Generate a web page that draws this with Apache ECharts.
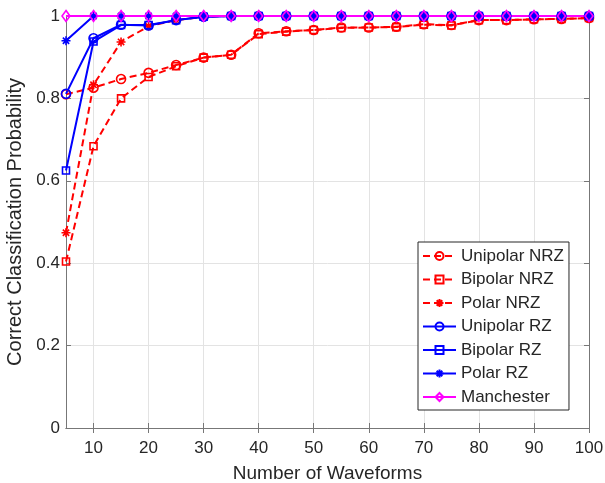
<!DOCTYPE html>
<html>
<head>
<meta charset="utf-8">
<script src="https://cdn.jsdelivr.net/npm/echarts@6/dist/echarts.min.js"></script>
<style>
  html, body { margin: 0; padding: 0; background: #fff; }
  #chart { width: 605px; height: 483px; }
</style>
</head>
<body>
<div id="chart"></div>
<script>
// number of waveforms
var waveforms = [5, 10, 15, 20, 25, 30, 35, 40, 45, 50, 55, 60, 65, 70, 75, 80, 85, 90, 95, 100];
var xTicks = [10, 20, 30, 40, 50, 60, 70, 80, 90, 100];

var unipolarNRZ = [0.81, 0.826, 0.847, 0.862, 0.881, 0.899, 0.906, 0.958, 0.963, 0.966, 0.972, 0.972, 0.974, 0.98, 0.978, 0.99, 0.99, 0.992, 0.993, 0.995];
var bipolarNRZ = [0.404, 0.684, 0.80, 0.852, 0.878, 0.899, 0.906, 0.956, 0.962, 0.966, 0.971, 0.972, 0.973, 0.979, 0.977, 0.99, 0.99, 0.992, 0.993, 0.995];
var polarNRZ = [0.474, 0.833, 0.937, 0.975, 0.99, 0.998, 1, 1, 1, 1, 1, 1, 1, 1, 1, 1, 1, 1, 1, 1];
var unipolarRZ = [0.811, 0.946, 0.979, 0.977, 0.99, 0.998, 1, 1, 1, 1, 1, 1, 1, 1, 1, 1, 1, 1, 1, 1];
var bipolarRZ = [0.625, 0.938, 0.978, 0.978, 0.99, 0.998, 1, 1, 1, 1, 1, 1, 1, 1, 1, 1, 1, 1, 1, 1];
var polarRZ = [0.94, 1, 1, 1, 1, 1, 1, 1, 1, 1, 1, 1, 1, 1, 1, 1, 1, 1, 1, 1];
var manchester = [1, 1, 1, 1, 1, 1, 1, 1, 1, 1, 1, 1, 1, 1, 1, 1, 1, 1, 1, 1];

var FONT = '"Liberation Sans", Arial, sans-serif';
var TXT = '#262626';
var AXIS = '#777';
var STAR = 'path://M5,0L5,10M0,5L10,5M1.5,1.5L8.5,8.5M1.5,8.5L8.5,1.5';

function pairs(ys) {
    return waveforms.map(function (x, i) { return [x, ys[i]]; });
}

function makeSeries(name, ys, color, dashed, symbol, size) {
    return {
        name: name,
        type: 'line',
        data: pairs(ys),
        symbol: symbol,
        symbolSize: size,
        showAllSymbol: true,
        lineStyle: { color: color, width: 2, type: dashed ? [7, 4] : 'solid' },
        itemStyle: { color: 'rgba(0,0,0,0)', borderColor: color, borderWidth: 1.6 },
        emphasis: { disabled: true }
    };
}

var chart = echarts.init(document.getElementById('chart'));
var option = {
    animation: false,
    backgroundColor: '#fff',
    textStyle: { fontFamily: FONT },
    grid: { left: 66, right: 16, top: 16, bottom: 55, outerBoundsMode: 'none', containLabel: false },
    legend: {
        orient: 'vertical',
        left: 418,
        top: 242,
        padding: [4, 5, 3, 4],
        itemGap: 3.5,
        itemWidth: 33,
        itemHeight: 10,
        borderColor: TXT,
        borderWidth: 1,
        backgroundColor: '#fff',
        textStyle: { fontFamily: FONT, fontSize: 17, color: TXT, lineHeight: 20 },
        data: ['Unipolar NRZ', 'Bipolar NRZ', 'Polar NRZ', 'Unipolar RZ', 'Bipolar RZ', 'Polar RZ', 'Manchester']
    },
    xAxis: [{
        type: 'value',
        min: 5,
        max: 100,
        name: 'Number of Waveforms',
        nameLocation: 'middle',
        nameGap: 36,
        nameTextStyle: { fontFamily: FONT, fontSize: 19, color: TXT },
        axisLine: { show: true, onZero: false, lineStyle: { color: AXIS } },
        axisTick: { show: true, inside: true, length: 5, customValues: xTicks, lineStyle: { color: AXIS } },
        axisLabel: { customValues: xTicks, fontFamily: FONT, fontSize: 17, color: TXT, margin: 12 },
        splitLine: { show: true, lineStyle: { color: '#e3e3e3' } }
    }, {
        type: 'value',
        position: 'top',
        min: 5,
        max: 100,
        axisLine: { show: true, lineStyle: { color: AXIS } },
        axisTick: { show: true, inside: true, length: 5, customValues: xTicks, lineStyle: { color: AXIS } },
        axisLabel: { show: false, customValues: xTicks },
        splitLine: { show: false }
    }],
    yAxis: [{
        type: 'value',
        min: 0,
        max: 1,
        interval: 0.2,
        name: 'Correct Classification Probability',
        nameLocation: 'middle',
        nameGap: 33,
        nameTextStyle: { fontFamily: FONT, fontSize: 20, color: TXT },
        axisLine: { show: true, lineStyle: { color: AXIS } },
        axisTick: { show: true, inside: true, length: 5, lineStyle: { color: AXIS } },
        axisLabel: { fontFamily: FONT, fontSize: 17, color: TXT, margin: 6 },
        splitLine: { show: true, lineStyle: { color: '#e3e3e3' } }
    }, {
        type: 'value',
        position: 'right',
        min: 0,
        max: 1,
        interval: 0.2,
        axisLine: { show: true, lineStyle: { color: AXIS } },
        axisTick: { show: true, inside: true, length: 5, lineStyle: { color: AXIS } },
        axisLabel: { show: false },
        splitLine: { show: false }
    }],
    series: [
        makeSeries('Unipolar NRZ', unipolarNRZ, '#ff0000', true, 'circle', 9),
        makeSeries('Bipolar NRZ', bipolarNRZ, '#ff0000', true, 'rect', 7),
        makeSeries('Polar NRZ', polarNRZ, '#ff0000', true, STAR, 9),
        makeSeries('Unipolar RZ', unipolarRZ, '#0000ff', false, 'circle', 9),
        makeSeries('Bipolar RZ', bipolarRZ, '#0000ff', false, 'rect', 7),
        makeSeries('Polar RZ', polarRZ, '#0000ff', false, STAR, 9),
        makeSeries('Manchester', manchester, '#ff00ff', false, 'diamond', [8, 11])
    ]
};
chart.setOption(option);
</script>
</body>
</html>
